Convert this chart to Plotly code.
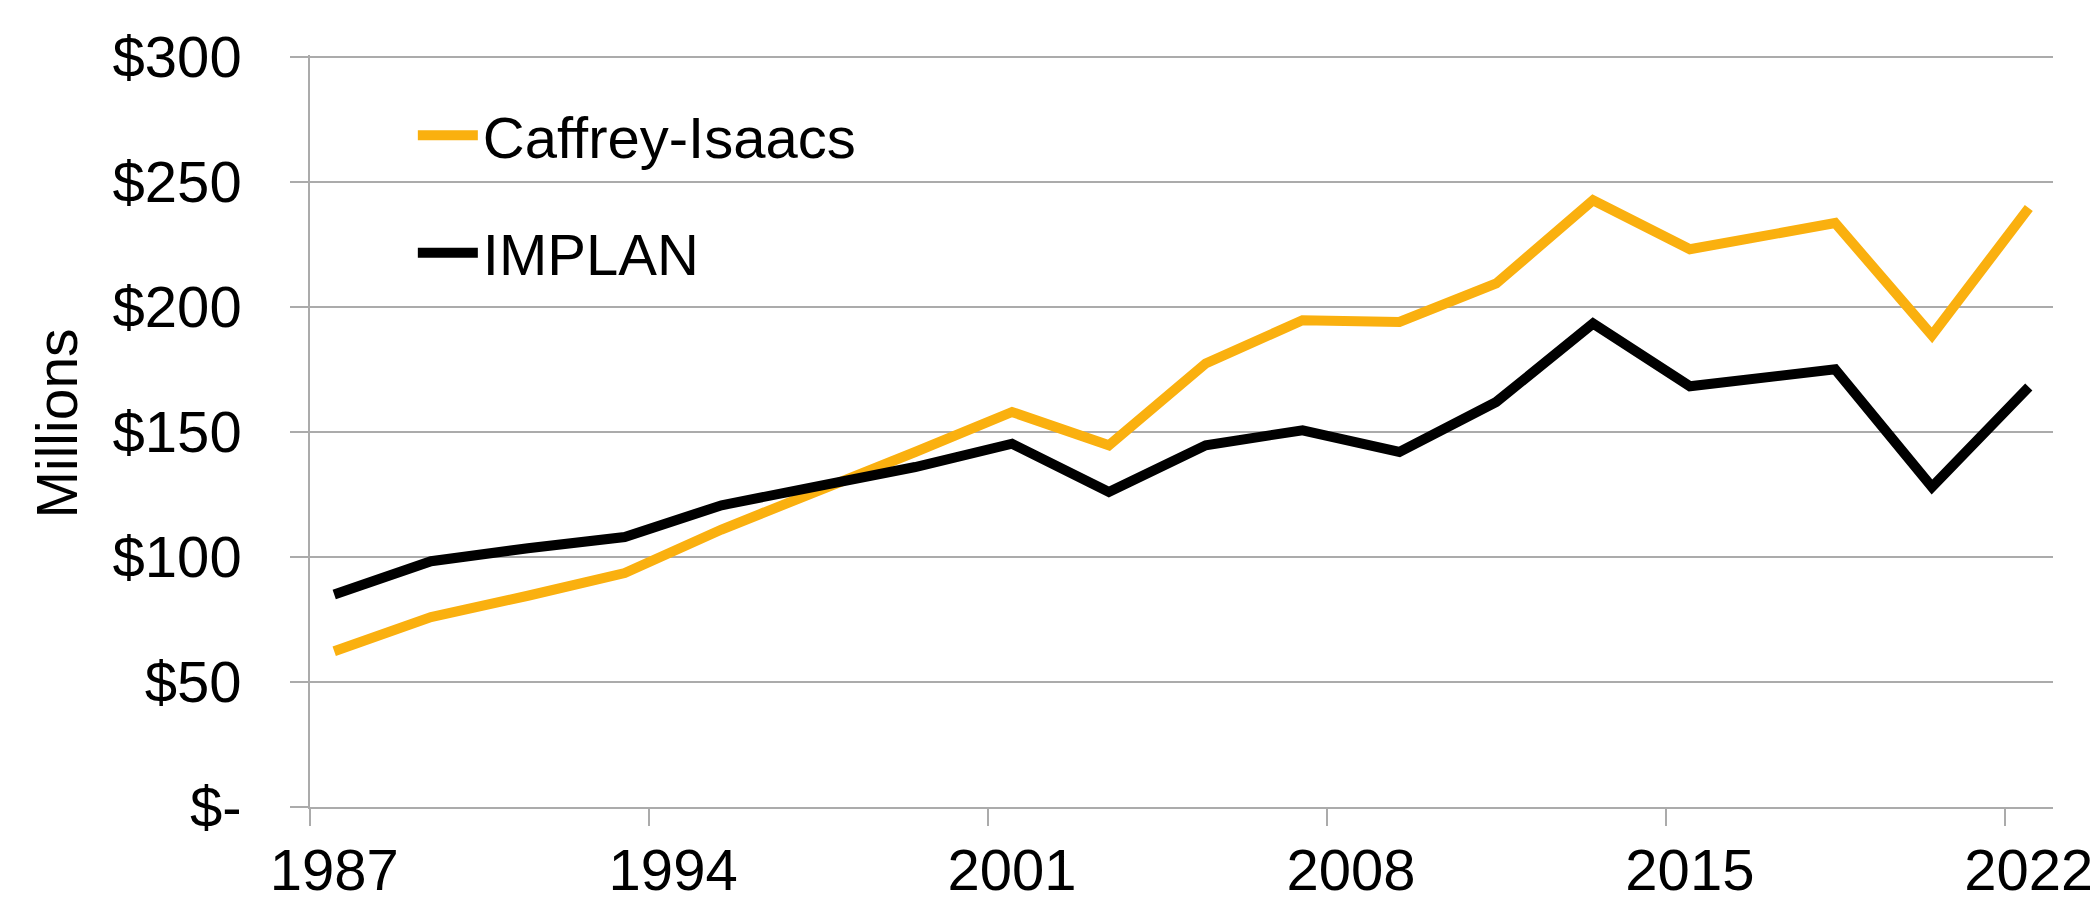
import plotly.graph_objects as go

# Data (millions of dollars)
years = [1987, 1989, 1991, 1993, 1995, 1997, 1999, 2001, 2003,
         2005, 2007, 2009, 2011, 2013, 2015, 2018, 2020, 2022]
caffrey_isaacs = [62.3, 76.0, 84.5, 93.6, 111.0, 126.0, 142.0, 158.0, 144.7,
                  177.4, 194.7, 194.0, 209.4, 242.7, 223.1, 233.6, 188.7, 239.6]
implan = [85.0, 98.3, 103.5, 108.0, 120.7, 128.7, 136.0, 145.3, 126.0,
          144.7, 150.7, 142.0, 162.0, 193.4, 168.3, 175.1, 128.0, 168.0]

x_labelvals = [1987, 1994, 2001, 2008, 2015, 2022]
x_tickmarks = [1986.5, 1993.5, 2000.5, 2007.5, 2014.5, 2021.5]
y_tickvals = [0, 50, 100, 150, 200, 250, 300]
y_ticktext = ["$-", "$50", "$100", "$150", "$200", "$250", "$300"]

FONT = "Liberation Sans, Arial, sans-serif"
GRID = "#ABABAB"
ORANGE = "#FAB00F"
FS = 58
PAGE_OFFSET = 8  # default body margin of the html page

fig = go.Figure()
fig.add_trace(go.Scatter(x=years, y=caffrey_isaacs, mode="lines", name="Caffrey-Isaacs",
                         legendgroup="a",
                         line=dict(color=ORANGE, width=10, shape="linear")))
fig.add_trace(go.Scatter(x=years, y=implan, mode="lines", name="IMPLAN",
                         legendgroup="b",
                         line=dict(color="#000000", width=10, shape="linear")))

fig.update_layout(
    width=2098 - PAGE_OFFSET, height=902 - PAGE_OFFSET,
    margin=dict(l=310 - PAGE_OFFSET, r=45, t=54.7 - PAGE_OFFSET, b=95, autoexpand=False),
    paper_bgcolor="white", plot_bgcolor="white",
    font=dict(family=FONT, size=FS, color="black"),
    showlegend=True,
    legend=dict(x=0.059, y=0.952, xanchor="left", yanchor="top",
                bgcolor="rgba(0,0,0,0)", font=dict(size=FS),
                tracegroupgap=39, itemwidth=60),
    xaxis=dict(range=[1986.5, 2022.5], tickvals=x_labelvals, ticks="outside", ticklen=17,
               tickwidth=1.5, tickcolor="rgba(0,0,0,0)", showline=True, linecolor=GRID,
               linewidth=1.5, showgrid=False, zeroline=False, tickfont=dict(size=FS),
               ticklabelstandoff=-5, automargin=False,
               minor=dict(tickvals=x_tickmarks, ticks="outside", ticklen=17, tickwidth=1.5,
                          tickcolor=GRID, showgrid=False)),
    yaxis=dict(range=[0, 300.8], tickvals=y_tickvals, ticktext=y_ticktext, ticks="outside",
               ticklen=18, tickwidth=1.5, tickcolor=GRID, showline=True, linecolor=GRID,
               linewidth=1.5, showgrid=True, gridcolor=GRID, gridwidth=1.5, zeroline=False,
               tickfont=dict(size=FS), ticklabelstandoff=37, automargin=False),
    annotations=[dict(text="Millions", x=-0.1446, y=0.51, xref="paper", yref="paper",
                      textangle=-90, showarrow=False, xanchor="center", yanchor="middle",
                      font=dict(size=57))],
)

fig.write_html("out.html")
